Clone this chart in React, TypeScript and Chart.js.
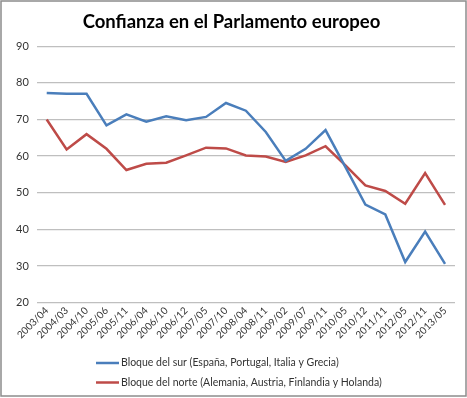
import React, { useEffect, useRef } from 'react';
import { Chart, registerables } from 'chart.js';

Chart.register(...registerables);

const categories = [
  '2003/04', '2004/03', '2004/10', '2005/06', '2005/11', '2006/04', '2006/10',
  '2006/12', '2007/05', '2007/10', '2008/04', '2008/11', '2009/02', '2009/07',
  '2009/11', '2010/05', '2010/12', '2011/11', '2012/05', '2012/11', '2013/05',
];

const surValues = [
  77.2, 77.0, 77.0, 68.4, 71.4, 69.4, 70.9, 69.8, 70.7, 74.5, 72.4,
  66.6, 58.7, 62.0, 67.1, 57.0, 46.8, 44.1, 31.1, 39.4, 30.6,
];

const norteValues = [
  70.0, 61.8, 66.0, 62.0, 56.2, 57.9, 58.2, 60.2, 62.3, 62.1, 60.2,
  59.9, 58.4, 60.2, 62.7, 57.5, 52.0, 50.5, 47.0, 55.4, 46.7,
];

const seriesLabels = [
  'Bloque del sur (España, Portugal, Italia y Grecia)',
  'Bloque del norte (Alemania, Austria, Finlandia y Holanda)',
];

const titleText = 'Confianza en el Parlamento europeo';
const yMin = 20;
const yMax = 90;
const yStep = 10;

const FONT = 'Lato, "Open Sans", "Liberation Sans", sans-serif';

const sideLegendPlugin = {
  id: 'sideLegend',
  afterDraw(chart: any) {
    const ctx = chart.ctx;
    ctx.save();
    ctx.font = `10.5px ${FONT}`;
    ctx.textBaseline = 'middle';
    ctx.textAlign = 'left';
    chart.data.datasets.forEach((ds: any, i: number) => {
      const y = 363 + i * 19.5;
      ctx.strokeStyle = ds.borderColor;
      ctx.lineWidth = 2.5;
      ctx.beginPath();
      ctx.moveTo(96, y);
      ctx.lineTo(119, y);
      ctx.stroke();
      ctx.fillStyle = '#333333';
      ctx.fillText(ds.label, 121, y);
    });
    ctx.strokeStyle = '#8c8c8c';
    ctx.lineWidth = 1.5;
    ctx.strokeRect(1, 1, 465, 395);
    ctx.restore();
  },
};

export default function App() {
  const ref = useRef<HTMLCanvasElement | null>(null);

  useEffect(() => {
    if (!ref.current) return;
    const chart = new Chart(ref.current, {
      type: 'line',
      data: {
        labels: categories,
        datasets: [
          {
            label: seriesLabels[0],
            data: surValues,
            borderColor: '#4a7ebb',
            backgroundColor: '#4a7ebb',
            borderWidth: 2.5,
            pointRadius: 0,
            tension: 0,
          },
          {
            label: seriesLabels[1],
            data: norteValues,
            borderColor: '#be4b48',
            backgroundColor: '#be4b48',
            borderWidth: 2.5,
            pointRadius: 0,
            tension: 0,
          },
        ],
      },
      options: {
        responsive: false,
        animation: false,
        layout: { padding: { left: 8, right: 12, top: 0, bottom: 55 } },
        plugins: {
          legend: { display: false },
          tooltip: { enabled: false },
          title: {
            display: true,
            text: titleText,
            color: '#000000',
            font: { family: FONT, size: 18.5, weight: 'bold' },
            padding: { top: 11, bottom: 13 },
          },
        },
        scales: {
          x: {
            offset: true,
            grid: { display: false, drawTicks: false },
            border: { display: false },
            ticks: {
              autoSkip: false,
              maxRotation: 45,
              minRotation: 45,
              color: '#333333',
              font: { family: FONT, size: 10 },
              padding: 2,
            },
          },
          y: {
            min: yMin,
            max: yMax,
            border: { display: false },
            grid: { color: '#bfbfbf', lineWidth: 1.3, drawTicks: false },
            ticks: {
              stepSize: yStep,
              color: '#333333',
              font: { family: FONT, size: 11 },
              padding: 8,
            },
          },
        },
      },
      plugins: [sideLegendPlugin],
    });
    return () => chart.destroy();
  }, []);

  return (
    <div style={{ position: 'absolute', left: 0, top: 0, width: 467, height: 398, background: '#ffffff' }}>
      <canvas ref={ref} width={467} height={398} />
    </div>
  );
}
